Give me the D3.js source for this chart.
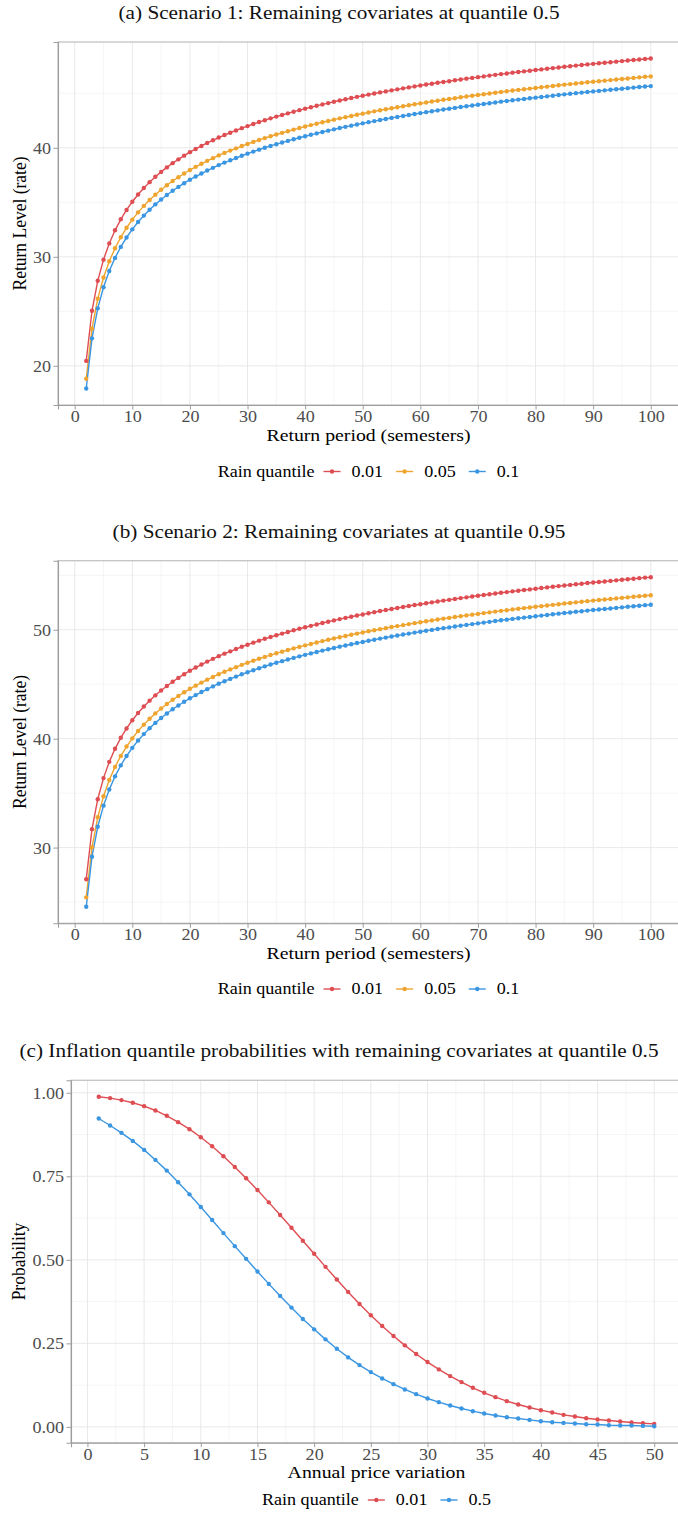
<!DOCTYPE html>
<html>
<head>
<meta charset="utf-8">
<script src="https://cdn.jsdelivr.net/npm/d3@7"></script>
<style>
  body { margin: 0; background: #ffffff; }
  svg { display: block; }
  svg text { font-family: "Liberation Serif", "Times New Roman", "DejaVu Serif", serif; }
</style>
</head>
<body>
<script>
// ---------- data ----------
// Return periods (semesters) used in scenarios 1 and 2
const returnPeriods = [2,3,4,5,6,7,8,9,10,11,12,13,14,15,16,17,18,19,20,21,22,23,24,25,26,27,28,29,30,31,32,33,34,35,36,37,38,39,40,41,42,43,44,45,46,47,48,49,50,51,52,53,54,55,56,57,58,59,60,61,62,63,64,65,66,67,68,69,70,71,72,73,74,75,76,77,78,79,80,81,82,83,84,85,86,87,88,89,90,91,92,93,94,95,96,97,98,99,100];

// Scenario 1: return levels by rain quantile
const scen1Rain001 = [20.45,25.05,27.80,29.74,31.23,32.43,33.44,34.30,35.05,35.72,36.31,36.85,37.34,37.79,38.20,38.59,38.94,39.28,39.60,39.89,40.17,40.44,40.69,40.94,41.17,41.38,41.59,41.80,41.99,42.18,42.36,42.53,42.70,42.86,43.01,43.16,43.31,43.45,43.59,43.72,43.85,43.98,44.10,44.22,44.34,44.45,44.56,44.67,44.77,44.88,44.98,45.08,45.17,45.27,45.36,45.45,45.54,45.63,45.71,45.80,45.88,45.96,46.04,46.11,46.19,46.27,46.34,46.41,46.48,46.55,46.62,46.69,46.76,46.82,46.89,46.95,47.01,47.07,47.13,47.19,47.25,47.31,47.37,47.43,47.48,47.54,47.59,47.65,47.70,47.75,47.80,47.85,47.90,47.95,48.00,48.05,48.10,48.15,48.19];
const scen1Rain005 = [18.81,23.41,26.16,28.10,29.59,30.79,31.80,32.66,33.41,34.08,34.67,35.21,35.70,36.15,36.56,36.95,37.30,37.64,37.96,38.25,38.53,38.80,39.05,39.30,39.53,39.74,39.95,40.16,40.35,40.54,40.72,40.89,41.06,41.22,41.37,41.52,41.67,41.81,41.95,42.08,42.21,42.34,42.46,42.58,42.70,42.81,42.92,43.03,43.13,43.24,43.34,43.44,43.53,43.63,43.72,43.81,43.90,43.99,44.07,44.16,44.24,44.32,44.40,44.47,44.55,44.63,44.70,44.77,44.84,44.91,44.98,45.05,45.12,45.18,45.25,45.31,45.37,45.43,45.49,45.55,45.61,45.67,45.73,45.79,45.84,45.90,45.95,46.01,46.06,46.11,46.16,46.21,46.26,46.31,46.36,46.41,46.46,46.51,46.55];
const scen1Rain010 = [17.92,22.52,25.27,27.21,28.70,29.90,30.91,31.77,32.52,33.19,33.78,34.32,34.81,35.26,35.67,36.06,36.41,36.75,37.07,37.36,37.64,37.91,38.16,38.41,38.64,38.85,39.06,39.27,39.46,39.65,39.83,40.00,40.17,40.33,40.48,40.63,40.78,40.92,41.06,41.19,41.32,41.45,41.57,41.69,41.81,41.92,42.03,42.14,42.24,42.35,42.45,42.55,42.64,42.74,42.83,42.92,43.01,43.10,43.18,43.27,43.35,43.43,43.51,43.58,43.66,43.74,43.81,43.88,43.95,44.02,44.09,44.16,44.23,44.29,44.36,44.42,44.48,44.54,44.60,44.66,44.72,44.78,44.84,44.90,44.95,45.01,45.06,45.12,45.17,45.22,45.27,45.32,45.37,45.42,45.47,45.52,45.57,45.62,45.66];

// Scenario 2: return levels by rain quantile
const scen2Rain001 = [27.09,31.69,34.44,36.38,37.87,39.07,40.08,40.94,41.69,42.36,42.95,43.49,43.98,44.43,44.84,45.23,45.58,45.92,46.24,46.53,46.81,47.08,47.33,47.58,47.81,48.02,48.23,48.44,48.63,48.82,49.00,49.17,49.34,49.50,49.65,49.80,49.95,50.09,50.23,50.36,50.49,50.62,50.74,50.86,50.98,51.09,51.20,51.31,51.41,51.52,51.62,51.72,51.81,51.91,52.00,52.09,52.18,52.27,52.35,52.44,52.52,52.60,52.68,52.75,52.83,52.91,52.98,53.05,53.12,53.19,53.26,53.33,53.40,53.46,53.53,53.59,53.65,53.71,53.77,53.83,53.89,53.95,54.01,54.07,54.12,54.18,54.23,54.29,54.34,54.39,54.44,54.49,54.54,54.59,54.64,54.69,54.74,54.79,54.83];
const scen2Rain005 = [25.43,30.03,32.78,34.72,36.21,37.41,38.42,39.28,40.03,40.70,41.29,41.83,42.32,42.77,43.18,43.57,43.92,44.26,44.58,44.87,45.15,45.42,45.67,45.92,46.15,46.36,46.57,46.78,46.97,47.16,47.34,47.51,47.68,47.84,47.99,48.14,48.29,48.43,48.57,48.70,48.83,48.96,49.08,49.20,49.32,49.43,49.54,49.65,49.75,49.86,49.96,50.06,50.15,50.25,50.34,50.43,50.52,50.61,50.69,50.78,50.86,50.94,51.02,51.09,51.17,51.25,51.32,51.39,51.46,51.53,51.60,51.67,51.74,51.80,51.87,51.93,51.99,52.05,52.11,52.17,52.23,52.29,52.35,52.41,52.46,52.52,52.57,52.63,52.68,52.73,52.78,52.83,52.88,52.93,52.98,53.03,53.08,53.13,53.17];
const scen2Rain010 = [24.56,29.16,31.91,33.85,35.34,36.54,37.55,38.41,39.16,39.83,40.42,40.96,41.45,41.90,42.31,42.70,43.05,43.39,43.71,44.00,44.28,44.55,44.80,45.05,45.28,45.49,45.70,45.91,46.10,46.29,46.47,46.64,46.81,46.97,47.12,47.27,47.42,47.56,47.70,47.83,47.96,48.09,48.21,48.33,48.45,48.56,48.67,48.78,48.88,48.99,49.09,49.19,49.28,49.38,49.47,49.56,49.65,49.74,49.82,49.91,49.99,50.07,50.15,50.22,50.30,50.38,50.45,50.52,50.59,50.66,50.73,50.80,50.87,50.93,51.00,51.06,51.12,51.18,51.24,51.30,51.36,51.42,51.48,51.54,51.59,51.65,51.70,51.76,51.81,51.86,51.91,51.96,52.01,52.06,52.11,52.16,52.21,52.26,52.30];

// Annual price variation and inflation quantile probabilities
const priceVariation = [1,2,3,4,5,6,7,8,9,10,11,12,13,14,15,16,17,18,19,20,21,22,23,24,25,26,27,28,29,30,31,32,33,34,35,36,37,38,39,40,41,42,43,44,45,46,47,48,49,50];
const probRain001 = [0.988,0.984,0.978,0.970,0.960,0.947,0.931,0.912,0.891,0.867,0.840,0.810,0.778,0.744,0.709,0.672,0.634,0.596,0.557,0.518,0.479,0.441,0.404,0.368,0.334,0.302,0.272,0.244,0.218,0.194,0.172,0.152,0.134,0.117,0.102,0.089,0.077,0.067,0.058,0.050,0.043,0.036,0.031,0.026,0.022,0.019,0.016,0.013,0.011,0.009];
const probRain05 = [0.923,0.902,0.880,0.856,0.829,0.799,0.767,0.732,0.696,0.658,0.619,0.580,0.541,0.503,0.465,0.428,0.392,0.357,0.323,0.292,0.262,0.234,0.208,0.185,0.164,0.145,0.128,0.112,0.098,0.085,0.074,0.064,0.055,0.047,0.040,0.034,0.029,0.025,0.021,0.017,0.014,0.012,0.010,0.008,0.007,0.005,0.004,0.004,0.003,0.002];

// Legend labels and axis breaks
const rainLevels3 = ["0.01", "0.05", "0.1"];
const rainLevels2 = ["0.01", "0.5"];
const periodTicks = [0,10,20,30,40,50,60,70,80,90,100];
const levelTicks1 = [20,30,40];
const levelTicks2 = [30,40,50];
const priceTicks = [0,5,10,15,20,25,30,35,40,45,50];
const probTicks = [0,0.25,0.5,0.75,1];

// ---------- styling ----------
const W = 678, H = 1519;
const SX = 1.13;              // horizontal glyph stretch
const RED = "#de4d52", ORANGE = "#eea42e", BLUE = "#3b96e2";
const DOT_R = 2.2, LINE_W = 1.4;

const svg = d3.select("body").append("svg")
  .attr("width", W).attr("height", H)
  .attr("viewBox", `0 0 ${W} ${H}`);
svg.append("rect").attr("width", W).attr("height", H).attr("fill", "#fff");

function label(g, x, y, s, size, opts = {}) {
  return g.append("text")
    .attr("transform", `translate(${x},${y}) scale(${SX},1)` + (opts.rotate ? " rotate(-90)" : ""))
    .style("font-size", size + "px")
    .attr("fill", opts.fill || "#000")
    .attr("text-anchor", opts.anchor || "start")
    .text(s);
}

function minorBreaks(ticks, domain) {
  const step = ticks[1] - ticks[0];
  const out = [ticks[0] - step / 2, ...ticks.map(t => t + step / 2)];
  return out.filter(v => v > domain[0] && v < domain[1]);
}

function drawPanel(cfg) {
  const g = svg.append("g");
  const b = cfg.box;
  const allY = cfg.series.flatMap(s => s.values);
  const xe = d3.extent(cfg.xs), ye = d3.extent(allY);
  const xp = (xe[1] - xe[0]) * 0.05, yp = (ye[1] - ye[0]) * 0.05;
  const x = d3.scaleLinear().domain([xe[0] - xp, xe[1] + xp]).range([b.left, b.right]);
  const y = d3.scaleLinear().domain([ye[0] - yp, ye[1] + yp]).range([b.bottom, b.top]);

  // title above panel
  label(g, W / 2, b.top - 23, cfg.title, 18.8, { anchor: "middle", fill: "#111" });

  // minor grid
  const grid = g.append("g");
  minorBreaks(cfg.xTicks, x.domain()).forEach(v => {
    grid.append("line").attr("x1", x(v)).attr("x2", x(v)).attr("y1", b.top).attr("y2", b.bottom)
      .attr("stroke", "#f1f1f1").attr("stroke-width", 0.7);
  });
  minorBreaks(cfg.yTicks, y.domain()).forEach(v => {
    grid.append("line").attr("y1", y(v)).attr("y2", y(v)).attr("x1", b.left).attr("x2", b.right)
      .attr("stroke", "#f1f1f1").attr("stroke-width", 0.7);
  });
  // major grid
  cfg.xTicks.forEach(v => {
    grid.append("line").attr("x1", x(v)).attr("x2", x(v)).attr("y1", b.top).attr("y2", b.bottom)
      .attr("stroke", "#e6e6e6").attr("stroke-width", 0.9);
  });
  cfg.yTicks.forEach(v => {
    grid.append("line").attr("y1", y(v)).attr("y2", y(v)).attr("x1", b.left).attr("x2", b.right)
      .attr("stroke", "#e6e6e6").attr("stroke-width", 0.9);
  });

  // panel border
  g.append("rect").attr("x", b.left).attr("y", b.top)
    .attr("width", b.right - b.left).attr("height", b.bottom - b.top)
    .attr("fill", "none").attr("stroke", "#c4c4c4").attr("stroke-width", 1.3);

  // axes
  const xAxis = d3.axisBottom(x).tickValues(cfg.xTicks).tickSize(4.5).tickPadding(3)
    .tickFormat(cfg.xFormat);
  const yAxis = d3.axisLeft(y).tickValues(cfg.yTicks).tickSize(4.5).tickPadding(3)
    .tickFormat(cfg.yFormat);
  const gx = g.append("g").attr("transform", `translate(0,${b.bottom})`).call(xAxis);
  const gy = g.append("g").attr("transform", `translate(${b.left},0)`).call(yAxis);
  [gx, gy].forEach(ax => {
    ax.attr("font-family", null).attr("font-size", null);
    ax.select(".domain").attr("stroke", "#9d9d9d").attr("stroke-width", 1.1);
    ax.selectAll(".tick line").attr("stroke", "#9d9d9d").attr("stroke-width", 1);
    ax.selectAll(".tick text").remove();
  });
  gx.selectAll(".tick").each(function (d) {
    label(d3.select(this), 0, 17, cfg.xFormat(d), 16, { anchor: "middle", fill: "#4d4d4d" });
  });
  gy.selectAll(".tick").each(function (d) {
    label(d3.select(this), -7, 5.5, cfg.yFormat(d), 16, { anchor: "end", fill: "#4d4d4d" });
  });

  // axis titles
  label(g, (b.left + b.right) / 2, b.bottom + 35.5, cfg.xTitle, 17.5, { anchor: "middle" });
  label(g, cfg.yTitleX, (b.top + b.bottom) / 2, cfg.yTitle, 17.5, { anchor: "middle", rotate: true });

  // series
  const line = d3.line().x((d, i) => x(cfg.xs[i])).y(d => y(d));
  cfg.series.forEach(s => {
    g.append("path").datum(s.values).attr("d", line)
      .attr("fill", "none").attr("stroke", s.color).attr("stroke-width", LINE_W);
  });
  cfg.series.forEach(s => {
    g.append("g").selectAll("circle").data(s.values).join("circle")
      .attr("cx", (d, i) => x(cfg.xs[i])).attr("cy", d => y(d))
      .attr("r", DOT_R).attr("fill", s.color);
  });

  // legend
  const lg = g.append("g");
  let pos = 0;
  const t0 = label(lg, 0, 0, "Rain quantile", 16);
  pos += t0.node().getBBox().width * SX + 9;
  cfg.series.forEach((s, i) => {
    lg.append("line").attr("x1", pos).attr("x2", pos + 17).attr("y1", -5).attr("y2", -5)
      .attr("stroke", s.color).attr("stroke-width", LINE_W);
    lg.append("circle").attr("cx", pos + 8.5).attr("cy", -5).attr("r", DOT_R).attr("fill", s.color);
    pos += 17 + 11;
    const t = label(lg, pos, 0, s.name, 16);
    pos += t.node().getBBox().width * SX;
    if (i < cfg.series.length - 1) pos += 13;
  });
  lg.attr("transform", `translate(${(b.left + b.right) / 2 - pos / 2},${cfg.legendY})`);
}

const intFmt = d3.format("d");
const probFmt = d3.format(".2f");

drawPanel({
  title: "(a) Scenario 1: Remaining covariates at quantile 0.5",
  box: { left: 58, right: 679, top: 42, bottom: 405 },
  xs: returnPeriods,
  series: [
    { name: rainLevels3[0], values: scen1Rain001, color: RED },
    { name: rainLevels3[1], values: scen1Rain005, color: ORANGE },
    { name: rainLevels3[2], values: scen1Rain010, color: BLUE }
  ],
  xTicks: periodTicks, yTicks: levelTicks1,
  xFormat: intFmt, yFormat: intFmt,
  xTitle: "Return period (semesters)", yTitle: "Return Level (rate)", yTitleX: 26,
  legendY: 476.5
});

drawPanel({
  title: "(b) Scenario 2: Remaining covariates at quantile 0.95",
  box: { left: 58, right: 679, top: 560.7, bottom: 923.3 },
  xs: returnPeriods,
  series: [
    { name: rainLevels3[0], values: scen2Rain001, color: RED },
    { name: rainLevels3[1], values: scen2Rain005, color: ORANGE },
    { name: rainLevels3[2], values: scen2Rain010, color: BLUE }
  ],
  xTicks: periodTicks, yTicks: levelTicks2,
  xFormat: intFmt, yFormat: intFmt,
  xTitle: "Return period (semesters)", yTitle: "Return Level (rate)", yTitleX: 26,
  legendY: 994
});

drawPanel({
  title: "(c) Inflation quantile probabilities with remaining covariates at quantile 0.5",
  box: { left: 71, right: 682, top: 1080.3, bottom: 1442.7 },
  xs: priceVariation,
  series: [
    { name: rainLevels2[0], values: probRain001, color: RED },
    { name: rainLevels2[1], values: probRain05, color: BLUE }
  ],
  xTicks: priceTicks, yTicks: probTicks,
  xFormat: intFmt, yFormat: probFmt,
  xTitle: "Annual price variation", yTitle: "Probability", yTitleX: 25,
  legendY: 1505
});
</script>
</body>
</html>
